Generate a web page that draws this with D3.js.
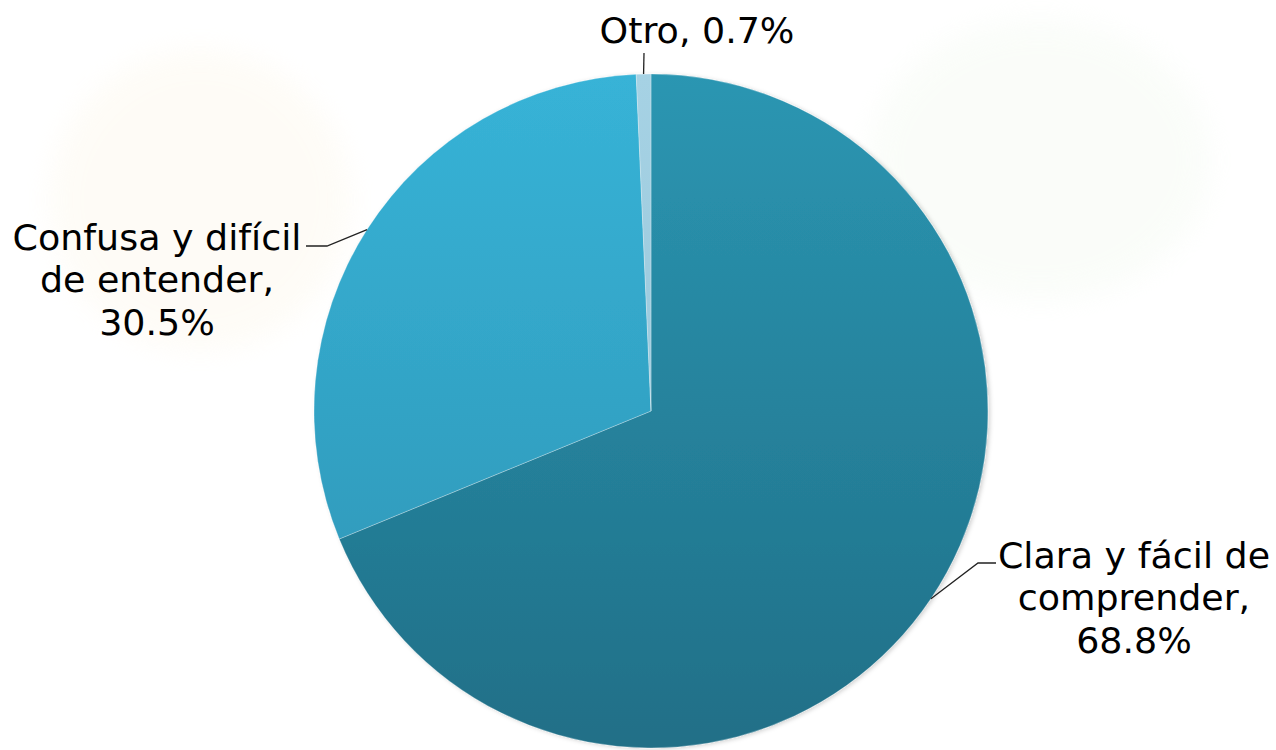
<!DOCTYPE html>
<html><head><meta charset="utf-8">
<script src="https://cdn.jsdelivr.net/npm/d3@7/dist/d3.min.js"></script>
<style>body{margin:0;background:#fff}svg{display:block}</style>
</head><body>
<svg id="c" width="1276" height="750"></svg>
<script>
const categories = ["Clara y fácil de comprender", "Confusa y difícil de entender", "Otro"];
const values = [68.8, 30.5, 0.7];
const labelLines = [["Clara y fácil de", "comprender,", "68.8%"], ["Confusa y difícil", "de entender,", "30.5%"], ["Otro, 0.7%"]];
const topColors = ["#2B96B2", "#37B3D7", "#A6D2E4"];
const bottomColors = ["#206F87", "#2E93B3", "#8FC1D6"];

const svg = d3.select("#c");
const cx = 651, cy = 411, r = 337;
const defs = svg.append("defs");

// faint watermark background
const f = defs.append("filter").attr("id", "blur").attr("x", "-50%").attr("y", "-50%").attr("width", "200%").attr("height", "200%");
f.append("feGaussianBlur").attr("stdDeviation", 14);
svg.append("ellipse").attr("cx", 200).attr("cy", 200).attr("rx", 150).attr("ry", 150)
  .attr("fill", "#FDF8EC").attr("opacity", 0.45).attr("filter", "url(#blur)");
svg.append("ellipse").attr("cx", 1040).attr("cy", 160).attr("rx", 170).attr("ry", 140)
  .attr("fill", "#F4FAF2").attr("opacity", 0.45).attr("filter", "url(#blur)");

const sh = defs.append("filter").attr("id", "shadow").attr("x", "-10%").attr("y", "-10%").attr("width", "120%").attr("height", "120%");
sh.append("feDropShadow").attr("dx", 2).attr("dy", 1).attr("stdDeviation", 2).attr("flood-color", "#000").attr("flood-opacity", 0.18);

categories.forEach((c, i) => {
  const g = defs.append("linearGradient").attr("id", "g" + i)
    .attr("gradientUnits", "userSpaceOnUse")
    .attr("x1", 0).attr("y1", -r).attr("x2", 0).attr("y2", r);
  g.append("stop").attr("offset", "0%").attr("stop-color", topColors[i]);
  g.append("stop").attr("offset", "100%").attr("stop-color", bottomColors[i]);
});

const pie = d3.pie().sort(null).value(d => d)(values);
const arc = d3.arc().innerRadius(0).outerRadius(r);
const gp = svg.append("g").attr("transform", `translate(${cx},${cy})`).attr("filter", "url(#shadow)");
gp.selectAll("path").data(pie).join("path")
  .attr("d", arc)
  .attr("fill", (d, i) => `url(#g${i})`)
  .attr("stroke", "#ffffff").attr("stroke-opacity", 0.35).attr("stroke-width", 0.8);

const font = "'DejaVu Sans', Verdana, sans-serif";
const fs = 35, lh = 42.5, sx = 1.04;
const labelPos = [
  {x: 1134, y: 568, elbow: [978, 563], end: [996, 563]},
  {x: 157, y: 250, elbow: [327, 246], end: [306, 246]},
  {x: 697, y: 43, elbow: null, end: [644, 53]}
];
pie.forEach((d, i) => {
  const mid = (d.startAngle + d.endAngle) / 2;
  const px = cx + r * Math.sin(mid), py = cy - r * Math.cos(mid);
  const p = labelPos[i];
  const pts = [[px, py]];
  if (p.elbow) pts.push(p.elbow);
  pts.push(p.end);
  svg.append("path").attr("d", d3.line()(pts)).attr("fill", "none")
    .attr("stroke", "#222").attr("stroke-width", 1.3);
  const t = svg.append("text").attr("font-family", font).attr("font-size", fs)
    .attr("fill", "#000").attr("text-anchor", "middle")
    .attr("transform", `translate(${p.x},0) scale(${sx},1)`);
  labelLines[i].forEach((ln, k) => {
    t.append("tspan").attr("x", 0).attr("y", p.y + k * lh).text(ln);
  });
});
</script>
</body></html>
